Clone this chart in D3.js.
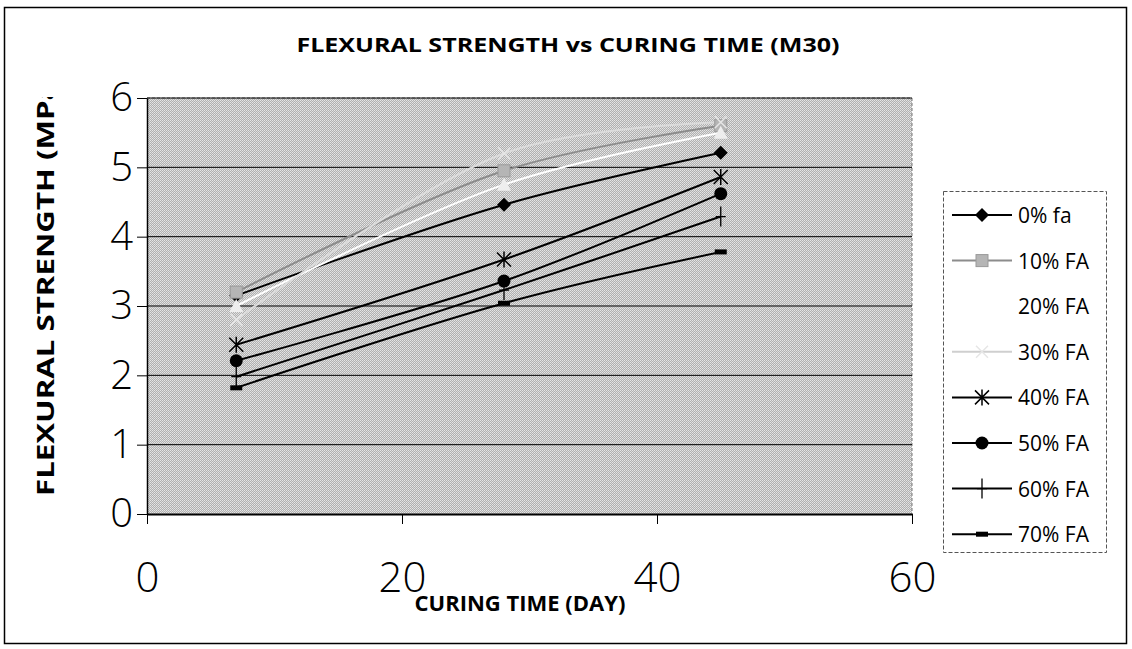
<!DOCTYPE html>
<html lang="en">
<head>
<meta charset="UTF-8">
<title>Flexural strength vs curing time</title>
<script src="https://d3js.org/d3.v7.min.js"></script>
<style>
  body { margin: 0; background: #fff; }
  text { font-family: "Open Sans", "Noto Sans", sans-serif; }
</style>
</head>
<body>
<div id="chart"></div>
<script>

// data
const days = [7, 28, 45];
const seriesNames = ["0% fa", "10% FA", "20% FA", "30% FA", "40% FA", "50% FA", "60% FA", "70% FA"];
const fa0  = [3.15, 4.46, 5.21];
const fa10 = [3.2, 4.95, 5.6];
const fa20 = [3.0, 4.75, 5.5];
const fa30 = [2.8, 5.2, 5.65];
const fa40 = [2.44, 3.67, 4.86];
const fa50 = [2.21, 3.36, 4.62];
const fa60 = [1.98, 3.23, 4.29];
const fa70 = [1.82, 3.04, 3.78];
const xTicks = [0, 20, 40, 60];
const yTicks = [0, 1, 2, 3, 4, 5, 6];

const allValues = [fa0, fa10, fa20, fa30, fa40, fa50, fa60, fa70];
const lineColor = ["#000", "#8c8c8c", "#ffffff", "#dcdcdc", "#000", "#000", "#000", "#000"];
const markerType = ["diamond", "square", "triangle", "cross", "asterisk", "circle", "plus", "dash"];

const W = 1132, H = 649;
const plot = {left: 147, top: 98, right: 912, bottom: 514};

const svg = d3.select("#chart").append("svg")
    .attr("width", W).attr("height", H);

// dithered grey background pattern
const defs = svg.append("defs");
const pat = defs.append("pattern").attr("id", "dither")
    .attr("width", 2).attr("height", 2).attr("patternUnits", "userSpaceOnUse");
pat.append("rect").attr("width", 2).attr("height", 2).attr("fill", "#b0b0b0");
pat.append("rect").attr("width", 1).attr("height", 1).attr("fill", "#e6e6e6");
pat.append("rect").attr("x", 1).attr("y", 1).attr("width", 1).attr("height", 1).attr("fill", "#dadada");

defs.append("clipPath").attr("id", "ylabClip")
  .append("rect").attr("x", 0).attr("y", 97).attr("width", 120).attr("height", 460);

// chart frame
svg.append("rect")
    .attr("x", 4.5).attr("y", 7.5).attr("width", 1122).attr("height", 636)
    .attr("fill", "none").attr("stroke", "#000").attr("stroke-width", 1.5);

const x = d3.scaleLinear().domain([0, 60]).range([plot.left, plot.right]);
const y = d3.scaleLinear().domain([0, 6]).range([plot.bottom, plot.top]);

svg.append("rect")
    .attr("x", plot.left).attr("y", plot.top)
    .attr("width", plot.right - plot.left).attr("height", plot.bottom - plot.top)
    .attr("fill", "url(#dither)");

// plot area edge on the right / top (faint dashed)
svg.append("path")
    .attr("d", `M${plot.left},${plot.top}H${plot.right}V${plot.bottom}`)
    .attr("fill", "none").attr("stroke", "#777").attr("stroke-dasharray", "3,2");

// gridlines
svg.append("g").selectAll("line")
  .data(yTicks.filter(d => d > 0))
  .join("line")
    .attr("x1", plot.left).attr("x2", plot.right)
    .attr("y1", d => y(d)).attr("y2", d => y(d))
    .attr("stroke", "#000").attr("stroke-width", 1);

// axes
const xAxis = svg.append("g")
    .attr("transform", `translate(0,${plot.bottom})`)
    .call(d3.axisBottom(x).tickValues(xTicks).tickFormat(d3.format("d"))
      .tickSize(10).tickSizeOuter(0).tickPadding(38));
xAxis.select(".domain").attr("stroke", "#000").attr("stroke-width", 2);
xAxis.selectAll("text").attr("font-size", 42).attr("fill", "#000")
    .style("font-family", "'Open Sans', sans-serif").style("font-weight", 300);

const yAxis = svg.append("g")
    .attr("transform", `translate(${plot.left},0)`)
    .call(d3.axisLeft(y).tickValues(yTicks).tickFormat(d3.format("d"))
      .tickSize(10).tickSizeOuter(0).tickPadding(4));
yAxis.select(".domain").attr("stroke", "#000").attr("stroke-width", 1.5);
yAxis.selectAll("text").attr("font-size", 40).attr("fill", "#000")
    .style("font-family", "'Open Sans', sans-serif").style("font-weight", 300);

// series lines
const line = d3.line()
    .x((d, i) => x(days[i]))
    .y(d => y(d))
    .curve(d3.curveCatmullRom.alpha(0.5));

svg.append("g").selectAll("path")
  .data(allValues)
  .join("path")
    .attr("d", d => line(d))
    .attr("fill", "none")
    .attr("stroke", (d, i) => lineColor[i])
    .attr("stroke-width", 2);

// markers
function drawMarker(g, type, color) {
  if (type === "diamond") {
    g.append("path").attr("d", "M0,-7L7,0L0,7L-7,0Z").attr("fill", "#000");
  } else if (type === "square") {
    g.append("rect").attr("x", -6).attr("y", -6).attr("width", 12).attr("height", 12)
      .attr("fill", "#b5b5b5").attr("stroke", "#999");
  } else if (type === "triangle") {
    g.append("path").attr("d", "M0,-7L7,6H-7Z").attr("fill", "#eeeeee");
  } else if (type === "cross") {
    g.append("path").attr("d", "M-6,-6L6,6M-6,6L6,-6").attr("stroke", "#e6e6e6").attr("stroke-width", 1.5);
  } else if (type === "asterisk") {
    g.append("path").attr("d", "M-7,-7L7,7M-7,7L7,-7M0,-8V8").attr("stroke", "#000").attr("stroke-width", 1.5);
  } else if (type === "circle") {
    g.append("circle").attr("r", 6.5).attr("fill", "#000");
  } else if (type === "plus") {
    g.append("path").attr("d", "M0,-10V10M-5,0H5").attr("stroke", "#000").attr("stroke-width", 1.3);
  } else if (type === "dash") {
    g.append("rect").attr("x", -6).attr("y", -2.5).attr("width", 12).attr("height", 5).attr("fill", "#000");
  }
}

allValues.forEach((vals, s) => {
  vals.forEach((v, i) => {
    const g = svg.append("g").attr("transform", `translate(${x(days[i])},${y(v)})`);
    drawMarker(g, markerType[s], lineColor[s]);
  });
});

// titles
svg.append("text")
    .attr("x", 568).attr("y", 52)
    .attr("text-anchor", "middle")
    .attr("font-size", 20).attr("font-weight", "bold")
    .attr("textLength", 543).attr("lengthAdjust", "spacingAndGlyphs")
    .text("FLEXURAL STRENGTH vs CURING TIME (M30)");

svg.append("text")
    .attr("x", 520).attr("y", 611)
    .attr("text-anchor", "middle")
    .attr("font-size", 21).attr("font-weight", "bold")
    .attr("textLength", 211).attr("lengthAdjust", "spacingAndGlyphs")
    .text("CURING TIME (DAY)");

svg.append("g").attr("clip-path", "url(#ylabClip)")
  .append("text")
    .attr("transform", "translate(54,496) rotate(-90)")
    .attr("text-anchor", "start")
    .attr("font-size", 23).attr("font-weight", "bold")
    .attr("textLength", 425).attr("lengthAdjust", "spacingAndGlyphs")
    .text("FLEXURAL STRENGTH (MPa)");

// legend
const leg = svg.append("g");
leg.append("rect")
    .attr("x", 943.5).attr("y", 191.5).attr("width", 163).attr("height", 361)
    .attr("fill", "#fff").attr("stroke", "#555").attr("stroke-dasharray", "4,2");

seriesNames.forEach((name, s) => {
  const ly = 215 + s * 45.6;
  const row = leg.append("g").attr("transform", `translate(0,${ly})`);
  row.append("line").attr("x1", 952).attr("x2", 1012).attr("y1", 0).attr("y2", 0)
      .attr("stroke", s === 2 ? "#fff" : (s === 3 ? "#cfcfcf" : lineColor[s])).attr("stroke-width", 2);
  const m = row.append("g").attr("transform", "translate(982,0)");
  if (s !== 2) drawMarker(m, markerType[s], lineColor[s]);
  row.append("text").attr("x", 1018).attr("y", 8)
      .attr("font-size", 21).attr("fill", "#000")
      .text(name);
});

</script>
</body>
</html>
